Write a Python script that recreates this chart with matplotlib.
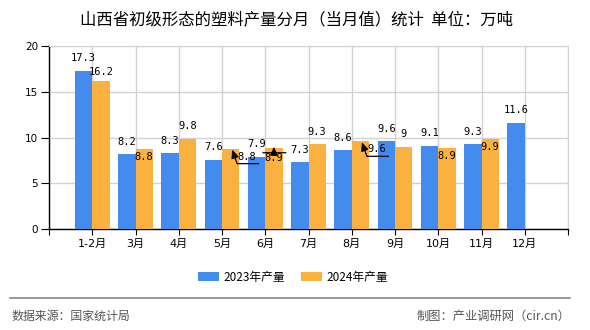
import matplotlib
matplotlib.use("Agg")
import matplotlib.pyplot as plt
import numpy as np
from matplotlib.transforms import offset_copy
from matplotlib.patches import Patch

plt.rcParams['font.family'] = ['DejaVu Sans', 'Noto Sans CJK SC']

title = "山西省初级形态的塑料产量分月（当月值）统计  单位：万吨"
categories = ["1-2月", "3月", "4月", "5月", "6月", "7月", "8月", "9月", "10月", "11月", "12月"]
series_names = ["2023年产量", "2024年产量"]
values_2023 = [17.3, 8.2, 8.3, 7.6, 7.9, 7.3, 8.6, 9.6, 9.1, 9.3, 11.6]
values_2024 = [16.2, 8.8, 9.8, 8.8, 8.9, 9.3, 9.6, 9.0, 8.9, 9.9, None]
yticks = [0, 5, 10, 15, 20]
source_text = "数据来源：国家统计局"
credit_text = "制图：产业调研网（cir.cn）"

# label placement (pixel offsets) for the 2024 series, as in the reference
label_offsets_2024 = [(0, 9), (0, -8), (0, 13), (16, -8), (0, -10),
                      (0, 12.5), (16, -8), (0, 12.5), (0, -8), (0, -8), (0, 12.5)]
arrow_style_idx = {3: "bent", 6: "bent", 4: "flat"}

c_blue = "#438BEC"
c_orange = "#FBB140"

W, H = 590, 330
fig = plt.figure(figsize=(W / 100, H / 100), dpi=100)
ax = fig.add_axes([49 / W, 1 - 229.3 / H, (568 - 49) / W, (229.3 - 46) / H])

x = np.arange(len(categories))
bw = 0.4
v23 = np.array(values_2023, dtype=float)
v24 = np.array([np.nan if v is None else v for v in values_2024], dtype=float)

ax.bar(x, v23, width=-bw, align='edge', color=c_blue, zorder=3, label=series_names[0])
ax.bar(x, v24, width=bw, align='edge', color=c_orange, zorder=3, label=series_names[1])

ax.set_xlim(-1, len(categories))
ax.set_ylim(0, 20)
ax.set_yticks(yticks)
ax.set_xticks(np.arange(-1, len(categories) + 1))
ax.set_xticklabels([""] + categories + [""])
ax.grid(True, color="#d2d2d2", linewidth=1, zorder=0)
for s in ["top", "right"]:
    ax.spines[s].set_color("#d2d2d2")
for s in ["left", "bottom"]:
    ax.spines[s].set_color("black")
    ax.spines[s].set_linewidth(1)
ax.tick_params(axis='y', length=6, pad=2, labelsize=7.5, color='black')
ax.tick_params(axis='x', length=4, pad=3, labelsize=8, color='black')
for t in ax.get_xticklabels():
    t.set_family(['DejaVu Sans', 'Noto Sans CJK SC'])

def fmt(v):
    return ("%g" % v)

mono = ['DejaVu Sans Mono']
for i, v in enumerate(v23):
    tr = offset_copy(ax.transData, fig=fig, x=0, y=12.5, units='dots')
    ax.text(x[i] - bw / 2, v, fmt(v), transform=tr, ha='center', va='center',
            fontsize=7.5, family=mono, zorder=5)

for i, v in enumerate(v24):
    if np.isnan(v):
        continue
    dx, dy = label_offsets_2024[i]
    xc = x[i] + bw / 2
    tr = offset_copy(ax.transData, fig=fig, x=dx, y=dy, units='dots')
    ax.text(xc, v, fmt(v), transform=tr, ha='center', va='center',
            fontsize=7.5, family=mono, zorder=5)
    kind = arrow_style_idx.get(i)
    if kind == "bent":
        t_corner = offset_copy(ax.transData, fig=fig, x=6.5, y=-15, units='dots')
        t_end = offset_copy(ax.transData, fig=fig, x=28, y=-15, units='dots')
        t_head = offset_copy(ax.transData, fig=fig, x=1.5, y=-1, units='dots')
        ax.annotate("", xy=(xc, v), xycoords=t_end, xytext=(xc, v), textcoords=t_corner,
                    arrowprops=dict(arrowstyle='-', color='black', lw=0.9, shrinkA=0, shrinkB=0),
                    zorder=6)
        ax.annotate("", xy=(xc, v), xycoords=t_head, xytext=(xc, v), textcoords=t_corner,
                    arrowprops=dict(arrowstyle='-|>,head_length=0.5,head_width=0.22', color='black',
                                    lw=0.9, shrinkA=0, shrinkB=0), zorder=6)
    elif kind == "flat":
        t_l = offset_copy(ax.transData, fig=fig, x=-11, y=-5, units='dots')
        t_r = offset_copy(ax.transData, fig=fig, x=12, y=-5, units='dots')
        t_m = offset_copy(ax.transData, fig=fig, x=0, y=-5, units='dots')
        t_h = offset_copy(ax.transData, fig=fig, x=0, y=1, units='dots')
        ax.annotate("", xy=(xc, v), xycoords=t_r, xytext=(xc, v), textcoords=t_l,
                    arrowprops=dict(arrowstyle='-', color='black', lw=0.9, shrinkA=0, shrinkB=0),
                    zorder=6)
        ax.annotate("", xy=(xc, v), xycoords=t_h, xytext=(xc, v), textcoords=t_m,
                    arrowprops=dict(arrowstyle='-|>,head_length=0.5,head_width=0.22', color='black',
                                    lw=0.9, shrinkA=0, shrinkB=0), zorder=6)

fig.text(0.503, 1 - 20 / H, title, ha='center', va='center', fontsize=11.8,
         family=['Noto Sans CJK SC'], color='black')

handles = [Patch(facecolor=c_blue), Patch(facecolor=c_orange)]
fig.legend(handles, series_names, loc='center', bbox_to_anchor=(293 / W, 1 - 277 / H),
           ncol=2, frameon=False, prop={'family': ['Noto Sans CJK SC'], 'size': 8.5},
           handlelength=1.8, handleheight=0.7, columnspacing=1.3, handletextpad=0.4)

fig.add_artist(plt.Line2D([10 / W, 570 / W], [1 - 298 / H, 1 - 298 / H], color="#888888", lw=1.2))
fig.text(12 / W, 1 - 316 / H, source_text, ha='left', va='center', fontsize=8.6,
         family=['Noto Sans CJK SC'], color='#555555')
fig.text(570 / W, 1 - 316 / H, credit_text, ha='right', va='center', fontsize=8.8,
         family=['Noto Sans CJK SC'], color='#555555')

fig.savefig("out.png", dpi=100)
